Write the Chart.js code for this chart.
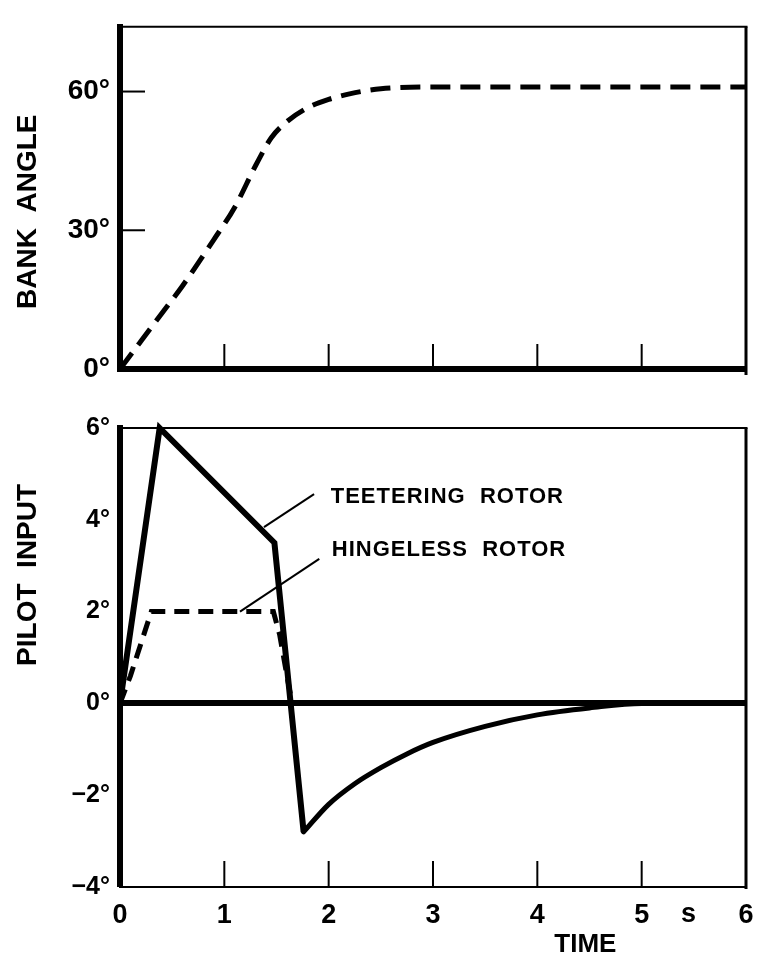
<!DOCTYPE html>
<html>
<head>
<meta charset="utf-8">
<script src="https://cdn.jsdelivr.net/npm/chart.js@4.4.1/dist/chart.umd.min.js"></script>
<style>
  html, body { margin: 0; padding: 0; background: #fff; }
  #wrap { position: relative; width: 757px; height: 962px; }
  canvas { position: absolute; left: 0; }
  #bank-chart { top: 0; }
  #input-chart { top: 400px; }
</style>
</head>
<body>
<div id="wrap">
  <canvas id="bank-chart" width="757" height="400"></canvas>
  <canvas id="input-chart" width="757" height="562"></canvas>
</div>
<script>
// Time axis (s)
const timeTicks = [0, 1, 2, 3, 4, 5, 6];

// Bank angle response (deg)
const bankTime  = [0, 0.2, 0.4, 0.6, 0.9, 1.1, 1.3, 1.45, 1.6, 1.8, 2.0, 2.2, 2.5, 3.0, 6.0];
const bankAngle = [0, 6, 12, 18, 28, 35, 44, 50, 53.5, 56.5, 58.3, 59.5, 60.6, 61, 61];
const bankTicks = [0, 30, 60];

// Pilot input, teetering rotor (deg): pulse, then the decay back to zero
const teeterTime   = [0, 0.38, 1.48, 1.76];
const teeterInput  = [0, 6, 3.5, -2.8];
const recoverTime  = [1.76, 2.0, 2.25, 2.5, 2.75, 3.0, 3.5, 4.0, 4.5, 5.0, 6.0];
const recoverInput = [-2.8, -2.2, -1.75, -1.4, -1.1, -0.85, -0.5, -0.25, -0.1, 0, 0];

// Pilot input, hingeless rotor (deg)
const hingeTime  = [0, 0.1, 0.3, 1.47, 1.53, 1.6, 1.65];
const hingeInput = [0, 0.6, 2, 2, 1.5, 0.6, 0];

const inputTicks = [-4, -2, 0, 2, 4, 6];

// Leader lines from the curve labels
const teeterLeaderX = [1.38, 1.86];
const teeterLeaderY = [3.84, 4.56];
const hingeLeaderX  = [1.15, 1.91];
const hingeLeaderY  = [2.0, 3.15];

const FONT = "'Liberation Sans', Arial, sans-serif";
const toPoints = (xs, ys) => xs.map((x, i) => ({ x: x, y: ys[i] }));

// Frame, inward tick marks, rotated axis title and free text labels
const decorations = {
    id: 'decorations',
    afterDraw(chart, args, o) {
        const { ctx, chartArea: a, scales: { x, y } } = chart;
        const line = (x1, y1, x2, y2) => {
            ctx.beginPath();
            ctx.moveTo(x1, y1);
            ctx.lineTo(x2, y2);
            ctx.stroke();
        };
        ctx.save();
        ctx.strokeStyle = '#000';
        ctx.fillStyle = '#000';

        ctx.lineWidth = o.topWidth;
        line(a.left, a.top, a.right + o.rightWidth / 2, a.top);
        ctx.lineWidth = o.rightWidth;
        line(a.right, a.top, a.right, a.bottom + o.bottomWidth);

        ctx.lineWidth = 2;
        o.xMarks.forEach(v => {
            const px = x.getPixelForValue(v);
            line(px, a.bottom, px, a.bottom - o.tickLen);
        });
        o.yMarks.forEach(v => {
            const py = y.getPixelForValue(v);
            line(a.left, py, a.left + o.tickLen, py);
        });

        ctx.save();
        ctx.translate(o.titleX, y.getPixelForValue(o.titleAt));
        ctx.rotate(-Math.PI / 2);
        ctx.font = 'bold 28px ' + FONT;
        ctx.textAlign = 'center';
        ctx.textBaseline = 'middle';
        ctx.fillText(o.title, 0, 0);
        ctx.restore();

        (o.notes || []).forEach(n => {
            ctx.font = 'bold ' + n.size + 'px ' + FONT;
            ctx.letterSpacing = (n.spacing || 0) + 'px';
            ctx.textAlign = n.align || 'left';
            ctx.textBaseline = 'middle';
            ctx.fillText(n.text, x.getPixelForValue(n.x), y.getPixelForValue(n.y));
        });
        ctx.restore();
    }
};

const xScale = (showLabels, bottomWidth, height) => ({
    type: 'linear',
    min: 0,
    max: 6,
    afterBuildTicks: s => { s.ticks = timeTicks.map(v => ({ value: v })); },
    afterFit: s => {
        s.height = height;
        // end labels may hang past the plot edges
        s.paddingLeft = 0;
        s.paddingRight = 0;
    },
    grid: { display: false, drawTicks: false },
    border: { display: true, width: bottomWidth, color: '#000' },
    ticks: {
        display: showLabels,
        padding: 12,
        color: '#000',
        maxRotation: 0,
        font: { family: FONT, size: 27, weight: 'bold' }
    }
});

// Bank angle chart
new Chart(document.getElementById('bank-chart'), {
    type: 'line',
    data: {
        datasets: [{
            data: toPoints(bankTime, bankAngle),
            borderColor: '#000',
            borderWidth: 5,
            borderDash: [20, 10],
            pointRadius: 0,
            cubicInterpolationMode: 'monotone'
        }]
    },
    options: {
        responsive: false,
        animation: false,
        devicePixelRatio: 1,
        layout: { padding: { top: 10, right: 11, left: 0, bottom: 0 } },
        plugins: {
            legend: { display: false },
            tooltip: { enabled: false },
            decorations: {
                topWidth: 2, rightWidth: 3, bottomWidth: 6, tickLen: 25,
                xMarks: [1, 2, 3, 4, 5], yMarks: [30, 60],
                title: 'BANK  ANGLE', titleX: 28, titleAt: 34
            }
        },
        scales: {
            x: xScale(false, 6, 31),
            y: {
                min: 0,
                max: 74,
                afterBuildTicks: s => { s.ticks = bankTicks.map(v => ({ value: v })); },
                afterFit: s => { s.width = 120; },
                grid: { display: false, drawTicks: false },
                border: { display: true, width: 6, color: '#000' },
                ticks: {
                    padding: 10,
                    color: '#000',
                    font: { family: FONT, size: 28, weight: 'bold' },
                    callback: v => v + '°'
                }
            }
        }
    },
    plugins: [decorations]
});

// Pilot input chart
new Chart(document.getElementById('input-chart'), {
    type: 'line',
    data: {
        datasets: [
            {
                data: toPoints(hingeTime, hingeInput),
                borderColor: '#000',
                borderWidth: 5,
                borderDash: [15, 9],
                pointRadius: 0,
                tension: 0
            },
            {
                data: toPoints(teeterTime, teeterInput),
                borderColor: '#000',
                borderWidth: 6,
                borderJoinStyle: 'miter',
                pointRadius: 0,
                tension: 0,
                clip: false
            },
            {
                data: toPoints(recoverTime, recoverInput),
                borderColor: '#000',
                borderWidth: 5,
                borderCapStyle: 'round',
                pointRadius: 0,
                cubicInterpolationMode: 'monotone'
            },
            {
                data: toPoints(teeterLeaderX, teeterLeaderY),
                borderColor: '#000',
                borderWidth: 2,
                pointRadius: 0
            },
            {
                data: toPoints(hingeLeaderX, hingeLeaderY),
                borderColor: '#000',
                borderWidth: 2,
                pointRadius: 0
            }
        ]
    },
    options: {
        responsive: false,
        animation: false,
        devicePixelRatio: 1,
        layout: { padding: { top: 28, right: 11, left: 0, bottom: 0 } },
        plugins: {
            legend: { display: false },
            tooltip: { enabled: false },
            decorations: {
                topWidth: 2, rightWidth: 3, bottomWidth: 2, tickLen: 26,
                xMarks: [1, 2, 3, 4, 5], yMarks: [],
                title: 'PILOT  INPUT', titleX: 28, titleAt: 2.8,
                notes: [
                    { text: 'TEETERING  ROTOR', x: 2.02, y: 4.5, size: 22, spacing: 1 },
                    { text: 'HINGELESS  ROTOR', x: 2.03, y: 3.34, size: 22, spacing: 1 },
                    { text: 's', x: 5.45, y: -4.6, size: 27, align: 'center' },
                    { text: 'TIME', x: 4.46, y: -5.25, size: 26, align: 'center' }
                ]
            }
        },
        scales: {
            x: xScale(true, 2, 75),
            y: {
                min: -4,
                max: 6,
                afterBuildTicks: s => { s.ticks = inputTicks.map(v => ({ value: v })); },
                afterFit: s => { s.width = 120; },
                grid: {
                    drawTicks: false,
                    color: c => (c.tick && c.tick.value === 0) ? '#000' : 'rgba(0,0,0,0)',
                    lineWidth: c => (c.tick && c.tick.value === 0) ? 6 : 0
                },
                border: { display: true, width: 6, color: '#000' },
                ticks: {
                    padding: 10,
                    color: '#000',
                    font: { family: FONT, size: 25, weight: 'bold' },
                    callback: v => (v < 0 ? '\u2212' + Math.abs(v) : v) + '°'
                }
            }
        }
    },
    plugins: [decorations]
});
</script>
</body>
</html>
